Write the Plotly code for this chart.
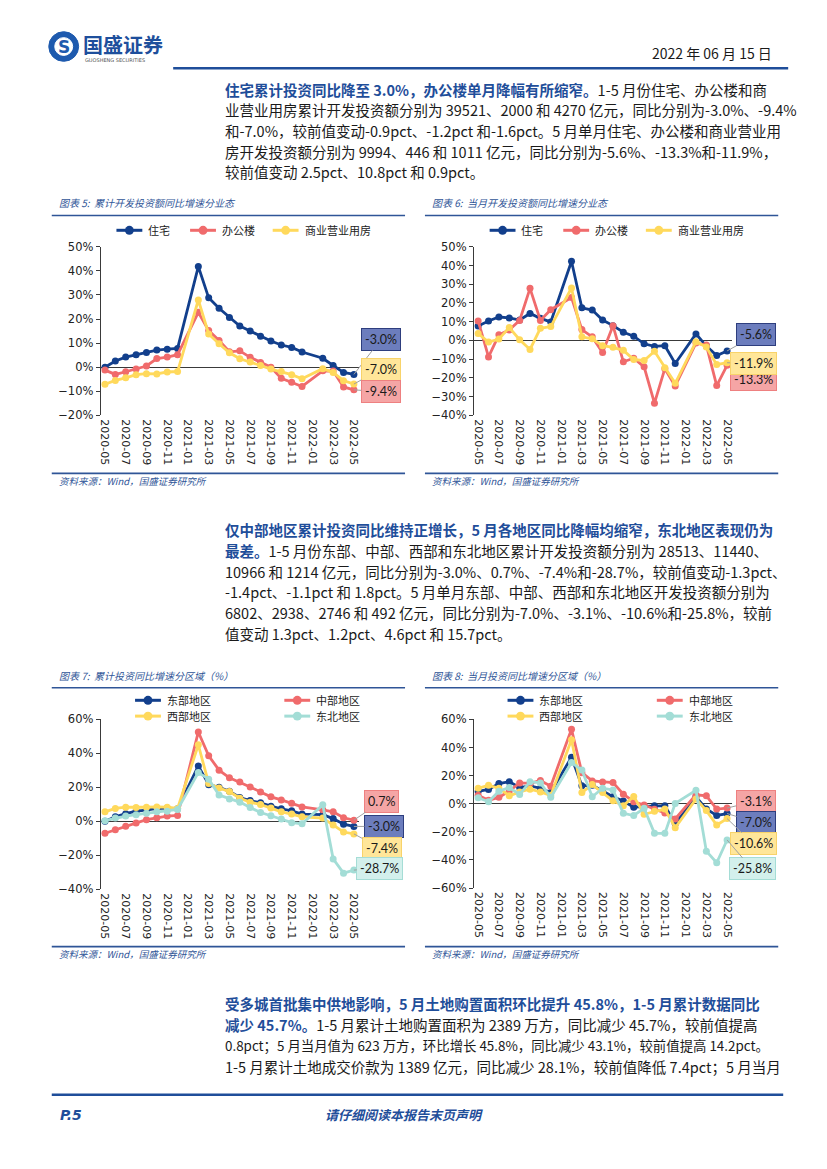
import plotly.graph_objects as go

# ---------------- data ----------------
months = ["2020-05", "2020-06", "2020-07", "2020-08", "2020-09", "2020-10", "2020-11", "2020-12",
          "2021-01", "2021-02", "2021-03", "2021-04", "2021-05", "2021-06", "2021-07", "2021-08",
          "2021-09", "2021-10", "2021-11", "2021-12", "2022-01", "2022-02", "2022-03", "2022-04", "2022-05"]
tick_months = months[::2]

# 图表5 累计开发投资额同比（%）
res_cum = [0.0, 2.6, 4.2, 5.2, 6.1, 7.1, 7.5, 7.8, None, 41.8, 28.8, 24.5, 20.6, 17.1, 15.0, 12.8, 10.9, 9.2, 8.2, 6.3, None, 3.7, 0.7, -2.2, -3.0]
off_cum = [-1.2, -3.0, -1.9, -0.8, 0.5, 3.6, 4.2, 5.2, None, 22.8, 15.2, 11.1, 6.4, 6.8, 4.1, 1.9, 0.0, -4.6, -6.3, -8.0, None, -1.5, -1.6, -8.2, -9.4]
com_cum = [-7.1, -5.5, -4.4, -3.1, -2.7, -2.8, -2.0, -1.8, None, 27.9, 13.8, 9.7, 6.0, 3.5, 2.2, 0.7, -0.8, -1.8, -3.1, -4.8, None, -0.6, -2.2, -5.6, -7.0]

# 图表6 当月开发投资额同比（%）
res_mon = [7.7, 10.4, 12.5, 12.0, 10.9, 14.4, 11.8, 9.9, None, 42.3, 17.4, 16.2, 10.9, 7.9, 4.4, 2.3, -1.8, -3.2, -2.8, -12.3, None, 3.5, -3.0, -8.1, -5.6]
off_mon = [10.4, -8.8, 3.0, 5.6, 10.7, 27.8, 10.7, 16.4, None, 22.9, 5.8, 1.9, -6.5, 7.9, -11.4, -9.5, -14.1, -33.5, -15.1, -24.3, None, -1.4, -2.5, -24.1, -13.3]
com_mon = [3.7, -0.9, 0.7, 6.9, 0.4, -4.8, 6.5, 7.4, None, 28.0, 1.9, 0.9, -2.8, -3.7, -5.3, -10.2, -10.7, -5.8, -14.6, -22.9, None, -0.7, -3.5, -12.9, -11.9]

# 图表7 累计投资同比分区域（%）
east_cum = [0.0, 2.7, 4.5, 6.0, 6.6, 7.6, 7.8, 7.4, None, 32.6, 21.6, 20.0, 17.7, 14.0, 12.2, 10.9, 8.9, 7.4, 6.2, 4.3, None, 3.9, 1.6, -1.7, -3.0]
mid_cum = [-7.0, -4.9, -2.9, -1.0, 1.0, 2.1, 3.1, 3.5, None, 52.6, 38.6, 30.1, 25.6, 23.1, 20.2, 17.3, 14.4, 12.6, 10.7, 8.5, None, 6.8, 5.6, 2.1, 0.7]
west_cum = [5.6, 7.6, 8.3, 8.1, 8.3, 8.5, 8.3, 7.6, None, 45.0, 22.3, 19.6, 17.5, 13.6, 11.3, 9.9, 7.8, 5.6, 4.3, 2.7, None, 1.9, -2.1, -6.3, -7.4]
ne_cum = [0.4, 1.9, 3.1, 3.9, 4.7, 5.6, 6.0, 7.0, None, 28.7, 24.8, 15.5, 13.2, 11.3, 8.1, 5.2, 3.3, 1.4, -0.8, -1.4, None, 9.7, -22.1, -30.5, -28.7]

# 图表8 当月投资同比分区域（%）
east_mon = [8.7, 10.1, 14.3, 15.7, 11.5, 12.7, 11.0, 8.0, None, 33.1, 12.7, 13.1, 9.1, 4.9, 1.9, -2.6, -1.9, -1.5, -1.4, -14.3, None, 5.0, -3.8, -8.4, -7.0]
mid_mon = [6.0, 2.5, 4.5, 9.0, 14.8, 14.5, 16.5, 12.5, None, 53.0, 22.1, 16.2, 15.5, 15.0, 6.8, 1.4, -0.9, -4.0, -6.6, -10.8, None, 6.3, 5.6, -3.8, -3.1]
west_mon = [11.0, 13.1, 11.0, 5.6, 8.4, 10.3, 8.4, 5.9, None, 45.5, 8.0, 13.6, 8.0, 2.1, -1.4, 5.2, -7.5, -5.4, -3.8, -17.1, None, 3.3, -4.9, -15.2, -10.6]
ne_mon = [4.2, 1.4, 8.9, 11.5, 6.6, 15.7, 14.8, 4.5, None, 29.3, 23.9, 4.9, 11.0, 9.8, -6.8, -8.4, -3.3, -21.1, -21.1, 0.2, None, 9.6, -33.8, -42.0, -25.8]

type_names = ["住宅", "办公楼", "商业营业用房"]
region_names = ["东部地区", "中部地区", "西部地区", "东北地区"]

# ---------------- styles ----------------
W, H = 827, 1169
NAVY = "#123F8C"
RED = "#F06B6C"
YEL = "#FFD95C"
TEAL = "#A3DDD6"
TXTBLUE = "#1F4E9A"
CJK = "Noto Sans CJK SC"
TICKF = "DejaVu Sans"


def px(x):
    return x / W


def py(y):
    return 1 - y / H


fig = go.Figure()

panels = [
    ("", 99.3, 358.3, 242.7, 413.3, [-20, 50], 10, [res_cum, off_cum, com_cum], type_names, [NAVY, RED, YEL]),
    ("2", 474.3, 733.3, 242.7, 413.3, [-40, 50], 10, [res_mon, off_mon, com_mon], type_names, [NAVY, RED, YEL]),
    ("3", 99.3, 358.3, 721.0, 893.0, [-40, 60], 20, [east_cum, mid_cum, west_cum, ne_cum], region_names, [NAVY, RED, YEL, TEAL]),
    ("4", 474.3, 733.3, 721.0, 891.7, [-60, 60], 20, [east_mon, mid_mon, west_mon, ne_mon], region_names, [NAVY, RED, YEL, TEAL]),
]

layout_axes = {}
for sid, x0, x1, yt, yb, yr, dt, series, names, colors in panels:
    for vals, nm, col in zip(series, names, colors):
        fig.add_trace(go.Scatter(
            x=months, y=vals, name=nm, mode="lines+markers", connectgaps=True,
            line=dict(color=col, width=2.8), marker=dict(color=col, size=7),
            xaxis="x" + sid, yaxis="y" + sid, showlegend=False, hoverinfo="skip"))
    layout_axes["xaxis" + sid] = dict(
        domain=[px(x0), px(x1)], anchor="y" + sid, type="category",
        categoryorder="array", categoryarray=months,
        range=[-0.4, 24.45], tickvals=tick_months, ticktext=tick_months,
        tickangle=90, showline=False, showgrid=False, zeroline=False, ticks="",
        tickfont=dict(family=TICKF, size=11, color="#222"), ticklabelstandoff=3)
    layout_axes["yaxis" + sid] = dict(
        domain=[py(yb), py(yt)], anchor="x" + sid, range=yr, dtick=dt,
        tick0=0, ticksuffix="%", showgrid=False, zeroline=True,
        zerolinecolor="#3a3a3a", zerolinewidth=1.2, showline=True,
        linecolor="#3a3a3a", linewidth=1.2, ticks="outside", ticklen=4,
        tickcolor="#3a3a3a", tickfont=dict(family=TICKF, size=11.5, color="#222"))

fig.update_layout(**layout_axes)

shapes = []
annotations = []


def text(x, y, s, size=14.5, color="#1a1a1a", xanchor="left", family=CJK, **kw):
    annotations.append(dict(x=px(x), y=py(y), xref="paper", yref="paper", text=s,
                            showarrow=False, xanchor=xanchor, yanchor="middle",
                            font=dict(family=family, size=size, color=color), **kw))


def hline(x0, x1, y, color=TXTBLUE, width=1.5):
    shapes.append(dict(type="line", xref="paper", yref="paper", x0=px(x0), x1=px(x1),
                       y0=py(y), y1=py(y), line=dict(color=color, width=width)))


# ---------------- header ----------------
shapes.append(dict(type="circle", xref="paper", yref="paper", x0=px(47), x1=px(77), y0=py(55), y1=py(25),
                   fillcolor="#1E5AAE", line=dict(color="#1E5AAE", width=1)))
shapes.append(dict(type="circle", xref="paper", yref="paper", x0=px(53), x1=px(71), y0=py(49), y1=py(31),
                   fillcolor="white", line=dict(color="white", width=1)))
text(62, 40, "<b>S</b>", size=17, color="#1E5AAE", xanchor="center", family="DejaVu Sans")
text(79, 38, "<b>国盛证券</b>", size=20, color="#1E4F9C")
text(81, 54, "GUOSHENG SECURITIES", size=5, color="#555", family="DejaVu Sans")
text(776, 47, "2022 年 06 月 15 日", size=14, color="#1a1a1a", xanchor="right")
hline(172, 790, 62, color=TXTBLUE, width=2.5)

B = "<span style='color:%s'><b>%s</b></span>" % (TXTBLUE, "%s")

p1 = [
    B % "住宅累计投资同比降至 3.0%，办公楼单月降幅有所缩窄。" + "1-5 月份住宅、办公楼和商",
    "业营业用房累计开发投资额分别为 39521、2000 和 4270 亿元，同比分别为-3.0%、-9.4%",
    "和-7.0%，较前值变动-0.9pct、-1.2pct 和-1.6pct。5 月单月住宅、办公楼和商业营业用",
    "房开发投资额分别为 9994、446 和 1011 亿元，同比分别为-5.6%、-13.3%和-11.9%，",
    "较前值变动 2.5pct、10.8pct 和 0.9pct。",
]
for i, s in enumerate(p1):
    text(222, 83 + 21 * i, s)

p2 = [
    B % "仅中部地区累计投资同比维持正增长，5 月各地区同比降幅均缩窄，东北地区表现仍为",
    B % "最差。" + "1-5 月份东部、中部、西部和东北地区累计开发投资额分别为 28513、11440、",
    "10966 和 1214 亿元，同比分别为-3.0%、0.7%、-7.4%和-28.7%，较前值变动-1.3pct、",
    "-1.4pct、-1.1pct 和 1.8pct。5 月单月东部、中部、西部和东北地区开发投资额分别为",
    "6802、2938、2746 和 492 亿元，同比分别为-7.0%、-3.1%、-10.6%和-25.8%，较前",
    "值变动 1.3pct、1.2pct、4.6pct 和 15.7pct。",
]
for i, s in enumerate(p2):
    text(222, 529 + 21 * i, s)

p3 = [
    B % "受多城首批集中供地影响，5 月土地购置面积环比提升 45.8%，1-5 月累计数据同比",
    B % "减少 45.7%。" + "1-5 月累计土地购置面积为 2389 万方，同比减少 45.7%，较前值提高",
    "0.8pct；5 月当月值为 623 万方，环比增长 45.8%，同比减少 43.1%，较前值提高 14.2pct。",
    "1-5 月累计土地成交价款为 1389 亿元，同比减少 28.1%，较前值降低 7.4pct；5 月当月",
]
p3_sizes = [14.5, 14.5, 13.4, 14.5]
for i, s in enumerate(p3):
    text(222, 1009 + 21 * i, s, size=p3_sizes[i])

# ---------------- chart titles / sources ----------------
titles = [
    (55, 198, "图表 5:  累计开发投资额同比增速分业态", 50, 405, 211),
    (430, 198, "图表 6:  当月开发投资额同比增速分业态", 425, 780, 211),
    (55, 677, "图表 7:  累计投资同比增速分区域（%）", 50, 405, 689),
    (430, 677, "图表 8:  当月投资同比增速分区域（%）", 425, 780, 689),
]
for x, y, s, l0, l1, ly in titles:
    text(x, y, "<i>%s</i>" % s, size=10, color="#2F5597")
    hline(l0, l1, ly, color="#2F5597", width=1.6)

sources = [(55, 480, 50, 405, 472), (430, 480, 425, 780, 472),
           (55, 958, 50, 405, 951), (430, 958, 425, 780, 951)]
for x, y, l0, l1, ly in sources:
    hline(l0, l1, ly, color="#2F5597", width=1.6)
    text(x, y, "<i>资料来源：Wind，国盛证券研究所</i>", size=9.5, color="#2F5597")

# ---------------- legends (drawn) ----------------


def legend_item(cx, cy, name, color):
    shapes.append(dict(type="line", xref="paper", yref="paper", x0=px(cx - 13), x1=px(cx + 13),
                       y0=py(cy), y1=py(cy), line=dict(color=color, width=3)))
    r = 4.5
    shapes.append(dict(type="circle", xref="paper", yref="paper", x0=px(cx - r), x1=px(cx + r),
                       y0=py(cy + r), y1=py(cy - r), fillcolor=color, line=dict(color=color, width=0)))
    text(cx + 17, cy, name, size=11, color="#222")


for base in (0, 375):
    for cx, nm, col in zip([128, 202, 285], type_names, [NAVY, RED, YEL]):
        legend_item(cx + base, 226, nm, col)

for c1, c2 in ((146.7, 296.7), (521, 671)):
    legend_item(c1, 701.7, region_names[0], NAVY)
    legend_item(c2, 701.7, region_names[1], RED)
    legend_item(c1, 717.7, region_names[2], YEL)
    legend_item(c2, 717.7, region_names[3], TEAL)

# ---------------- end-value callouts ----------------
BOX = {
    NAVY: ("#6C7DBD", "#2E3E7E"),
    RED: ("#F5A5A5", "#EE8080"),
    YEL: ("#FFE699", "#F8D36A"),
    TEAL: ("#D3F0EC", "#A5DDD6"),
}


def callout(sid, val, color, ax, ay):
    fill, border = BOX[color]
    annotations.append(dict(
        x=months[-1], y=val, xref="x" + sid, yref="y" + sid,
        text="%.1f%%" % val, showarrow=True, arrowhead=0, arrowwidth=1,
        arrowcolor="#A0A0A0", ax=ax, ay=ay, bgcolor=fill, bordercolor=border,
        borderwidth=1, borderpad=3, font=dict(family="Lato", size=12.5, color="#1a1a1a")))


callout("", res_cum[-1], NAVY, 27, -35)
callout("", com_cum[-1], YEL, 27, -15)
callout("", off_cum[-1], RED, 27, 2)

callout("2", res_mon[-1], NAVY, 29, -16)
callout("2", off_mon[-1], RED, 26, 14)
callout("2", com_mon[-1], YEL, 26, 1)

callout("3", mid_cum[-1], RED, 28, -19)
callout("3", east_cum[-1], NAVY, 30, 0)
callout("3", west_cum[-1], YEL, 28, 15)
callout("3", ne_cum[-1], TEAL, 26, -2)

callout("4", mid_mon[-1], RED, 29, -7)
callout("4", east_mon[-1], NAVY, 29, 9)
callout("4", west_mon[-1], YEL, 26, 25)
callout("4", ne_mon[-1], TEAL, 25, 29)

# ---------------- footer ----------------
hline(50, 785, 1101, color=TXTBLUE, width=2.5)
text(56, 1121, "<b><i>P.5</i></b>", size=14, color=TXTBLUE, family="DejaVu Sans")
text(404, 1121, "<b><i>请仔细阅读本报告末页声明</i></b>", size=13, color=TXTBLUE, xanchor="center")

fig.update_layout(
    width=W, height=H, margin=dict(l=0, r=0, t=0, b=0),
    paper_bgcolor="white", plot_bgcolor="white",
    shapes=shapes, annotations=annotations, showlegend=False,
)

fig.write_html("out.html", config={"displayModeBar": False},
               post_script="document.body.style.margin='0';document.body.style.overflow='hidden';")
